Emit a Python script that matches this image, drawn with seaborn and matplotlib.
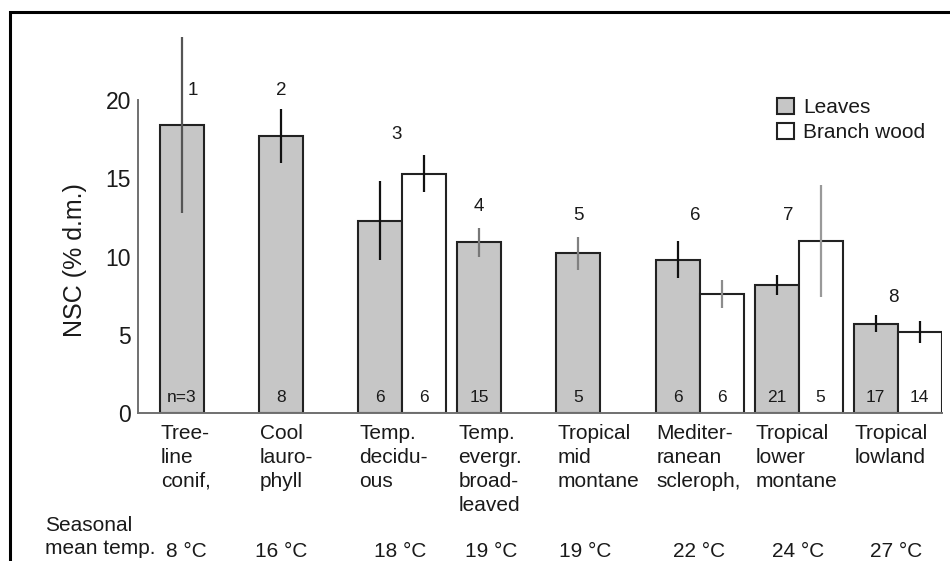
import numpy as np
import pandas as pd
import matplotlib
matplotlib.use("Agg")
import matplotlib.pyplot as plt
import matplotlib.transforms as mtransforms
from matplotlib.patches import Rectangle
import seaborn as sns

# ---- data -------------------------------------------------------------
categories = ["Tree-\nline\nconif,", "Cool\nlauro-\nphyll", "Temp.\ndecidu-\nous",
              "Temp.\nevergr.\nbroad-\nleaved", "Tropical\nmid\nmontane",
              "Mediter-\nranean\nscleroph,", "Tropical\nlower\nmontane",
              "Tropical\nlowland"]
group_ids = ["1", "2", "3", "4", "5", "6", "7", "8"]
leaves_nsc = [18.4, 17.7, 12.3, 10.9, 10.2, 9.8, 8.2, 5.7]
leaves_err = [5.6, 1.7, 2.5, 0.95, 1.05, 1.2, 0.65, 0.55]
leaves_n = ["n=3", "8", "6", "15", "5", "6", "21", "17"]
wood_nsc = [np.nan, np.nan, 15.3, np.nan, np.nan, 7.6, 11.0, 5.2]
wood_err = [np.nan, np.nan, 1.2, np.nan, np.nan, 0.9, 3.6, 0.7]
wood_n = ["", "", "6", "", "", "6", "5", "14"]
mean_temp = ["8 °C", "16 °C", "18 °C", "19 °C", "19 °C", "22 °C", "24 °C", "27 °C"]
yticks = [0, 5, 10, 15, 20]
tissues = ["Leaves", "Branch wood"]

# ---- styling / layout ---------------------------------------------------
leaf_err_colors = ["#555555", "#111111", "#111111", "#777777",
                   "#808080", "#111111", "#111111", "#111111"]
wood_err_colors = [None, None, "#111111", None, None, "#8c8c8c", "#999999", "#111111"]
id_label_y = [20.6, 20.6, 17.8, 13.2, 12.6, 12.65, 12.65, 7.4]
id_label_dx = [0.11, 0.0, -0.06, 0.0, 0.0, -0.04, -0.1, -0.04]
temp_dx = [0.04, 0.0, -0.02, 0.12, 0.07, 0.0, 0.0, -0.02]
group_width = 0.888
half = group_width / 4
ink = "#1a1a1a"

sns.set_theme(style="white")
plt.rcParams["font.family"] = ["Liberation Sans", "DejaVu Sans"]
plt.rcParams["text.color"] = ink

df = pd.DataFrame({
    "type": categories * 2,
    "tissue": [tissues[0]] * len(categories) + [tissues[1]] * len(categories),
    "nsc": leaves_nsc + wood_nsc,
}).dropna(subset=["nsc"])

fig = plt.figure(figsize=(9.5, 5.61), dpi=100)
ax = fig.add_axes([138 / 950, 1 - 413 / 561, 804 / 950, 399 / 561])

sns.barplot(data=df, x="type", y="nsc", hue="tissue", order=categories,
            hue_order=tissues, palette={"Leaves": "#c6c6c6", "Branch wood": "white"},
            width=group_width, dodge=True, errorbar=None, edgecolor="#222222",
            linewidth=1.5, saturation=1, ax=ax)

bar_sets = list(ax.containers)[:2]
has_wood = [not np.isnan(v) for v in wood_nsc]
wood_idx = [i for i, w in enumerate(has_wood) if w]

# error bars and sample sizes on the leaf bars
for patch, i in zip(bar_sets[0].patches, range(len(categories))):
    xc = patch.get_x() + patch.get_width() / 2
    ax.errorbar(xc, leaves_nsc[i], yerr=leaves_err[i], fmt="none",
                ecolor=leaf_err_colors[i], elinewidth=1.6, capsize=0, zorder=4)
    ax.text(xc, 1.0, leaves_n[i], ha="center", va="center", fontsize=12.5, color=ink)

# error bars and sample sizes on the branch-wood bars
for patch, i in zip(bar_sets[1].patches, wood_idx):
    xc = patch.get_x() + patch.get_width() / 2
    ax.errorbar(xc, wood_nsc[i], yerr=wood_err[i], fmt="none",
                ecolor=wood_err_colors[i], elinewidth=1.6, capsize=0, zorder=4)
    ax.text(xc, 1.0, wood_n[i], ha="center", va="center", fontsize=12.5, color=ink)

# group numbers above the bars
for i, gid in enumerate(group_ids):
    x0 = i if has_wood[i] else i - half
    ax.text(x0 + id_label_dx[i], id_label_y[i], gid, ha="center", va="center",
            fontsize=13.5, color=ink)

# axes
ax.set_xlim(-0.666, 7.447)
ax.set_ylim(0, 25.5)
ax.set_yticks(yticks)
ax.set_yticklabels([str(t) for t in yticks])
ax.tick_params(axis="y", direction="in", length=6, width=1.3, color="#666666",
               pad=5, labelsize=16.5, labelcolor=ink)
ax.set_xticks([i - 2 * half + 0.01 for i in range(len(categories))])
ax.set_xticklabels(categories, ha="left", va="top", fontsize=15, color=ink,
                   linespacing=1.32)
ax.tick_params(axis="x", length=0, pad=8)
ax.set_xlabel("")
ax.set_ylabel("NSC (% d.m.)", fontsize=18, color=ink)
ax.yaxis.set_label_coords(-0.0634, 0.383)

for side in ("top", "right"):
    ax.spines[side].set_visible(False)
ax.spines["left"].set_bounds(0, 20)
for side in ("left", "bottom"):
    ax.spines[side].set_color("#707070")
    ax.spines[side].set_linewidth(1.4)

sns.move_legend(ax, "upper left", bbox_to_anchor=(0.795, 0.79), frameon=False,
                title=None, fontsize=15, handlelength=0.8, handleheight=0.8,
                handletextpad=0.45, labelspacing=0.3, borderpad=0, borderaxespad=0)

# seasonal mean temperature row
trans = mtransforms.blended_transform_factory(ax.transData, fig.transFigure)
for i, t in enumerate(mean_temp):
    x0 = i if has_wood[i] else i - half
    ax.text(x0 + temp_dx[i], 1 - 557 / 561, t, transform=trans, ha="center",
            va="baseline", fontsize=15, color=ink, clip_on=False)
fig.text(45 / 950, 1 - 516 / 561, "Seasonal\nmean temp.", ha="left", va="top",
         fontsize=15, color=ink, linespacing=1.28)

# outer frame
fig.add_artist(Rectangle((9.5 / 950, -0.1), 1.2, 1.1 - 11.5 / 561,
                         transform=fig.transFigure, fill=False, lw=2.2,
                         edgecolor="black"))

fig.savefig("out.png", dpi=100)
